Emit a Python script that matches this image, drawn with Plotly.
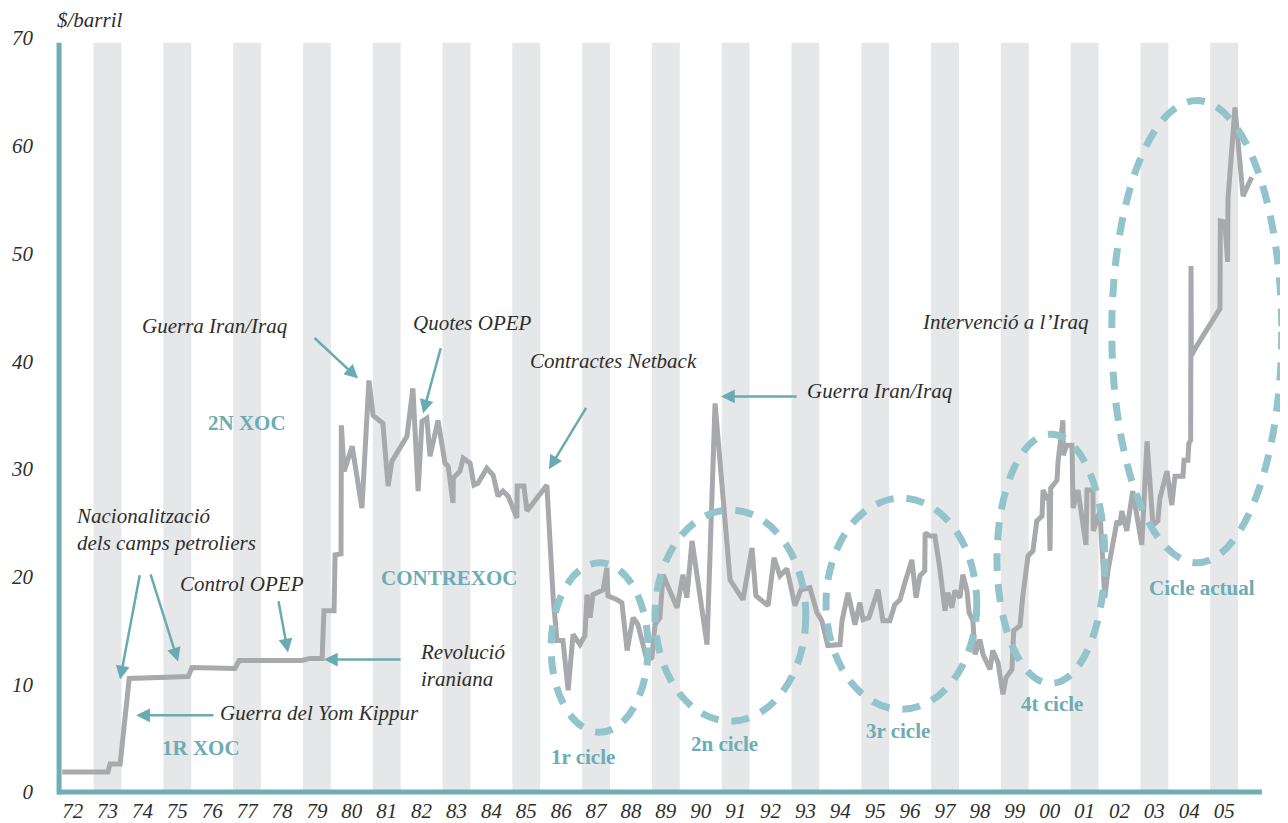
import plotly.graph_objects as go

# ---- data ----
years = [
    1971.70, 1973.01, 1973.07, 1973.36, 1973.62, 1975.31, 1975.42, 1976.65, 1976.77, 1978.57,
    1978.80, 1979.15, 1979.20, 1979.49, 1979.52, 1979.69, 1979.70, 1979.78, 1980.01, 1980.29,
    1980.49, 1980.61, 1980.89, 1981.04, 1981.15, 1981.58, 1981.75, 1981.90, 1982.01, 1982.15,
    1982.24, 1982.47, 1982.67, 1982.76, 1982.90, 1982.91, 1983.10, 1983.19, 1983.39, 1983.50,
    1983.62, 1983.87, 1984.05, 1984.19, 1984.33, 1984.48, 1984.73, 1984.74, 1984.93, 1985.02,
    1985.59, 1985.77, 1985.88, 1986.05, 1986.20, 1986.34, 1986.54, 1986.68, 1986.74, 1986.83,
    1986.91, 1987.20, 1987.31, 1987.34, 1987.60, 1987.74, 1987.89, 1988.06, 1988.20, 1988.46,
    1988.60, 1988.69, 1988.83, 1988.92, 1989.32, 1989.49, 1989.60, 1989.75, 1990.18, 1990.41,
    1990.84, 1991.21, 1991.47, 1991.58, 1991.93, 1992.10, 1992.27, 1992.47, 1992.70, 1992.87,
    1993.13, 1993.33, 1993.47, 1993.64, 1993.99, 1994.05, 1994.22, 1994.42, 1994.56, 1994.65,
    1994.82, 1995.08, 1995.22, 1995.42, 1995.56, 1995.71, 1995.85, 1996.05, 1996.17, 1996.28,
    1996.42, 1996.43, 1996.57, 1996.71, 1996.85, 1997.00, 1997.08, 1997.20, 1997.28, 1997.43,
    1997.51, 1997.63, 1997.69, 1997.80, 1997.86, 1998.00, 1998.09, 1998.29, 1998.37, 1998.52,
    1998.66, 1998.75, 1998.92, 1998.97, 1999.15, 1999.23, 1999.38, 1999.52, 1999.63, 1999.78,
    1999.81, 1999.98, 2000.01, 2000.03, 2000.21, 2000.24, 2000.38, 2000.39, 2000.49, 2000.64,
    2000.67, 2000.81, 2001.04, 2001.07, 2001.24, 2001.25, 2001.44, 2001.58, 2001.67, 2001.78,
    2001.93, 2002.01, 2002.07, 2002.21, 2002.38, 2002.64, 2002.79, 2002.96, 2003.10, 2003.16,
    2003.36, 2003.50, 2003.59, 2003.82, 2003.85, 2003.96, 2003.99, 2004.04, 2004.05, 2004.06,
    2004.22, 2004.88, 2004.89, 2005.02, 2005.10, 2005.11, 2005.31, 2005.54, 2005.79,
]
prices = [
    1.85, 1.85, 2.59, 2.59, 10.55, 10.73, 11.56, 11.47, 12.21, 12.21,
    12.40, 12.40, 16.84, 16.84, 22.02, 22.11, 34.04, 29.79, 32.10, 26.36,
    38.21, 34.97, 34.23, 28.40, 30.71, 33.02, 37.47, 27.94, 34.41, 34.69,
    31.17, 34.50, 30.53, 30.25, 26.83, 29.14, 29.79, 30.99, 30.53, 28.49,
    28.68, 30.06, 29.42, 27.47, 27.94, 27.47, 25.44, 28.40, 28.40, 26.09,
    28.49, 18.04, 14.06, 14.06, 9.44, 14.62, 13.69, 14.52, 18.32, 16.19,
    18.32, 18.78, 20.81, 18.22, 17.85, 17.58, 13.14, 16.19, 15.54, 12.21,
    12.49, 15.54, 16.19, 20.17, 17.11, 20.17, 18.04, 23.31, 13.69, 36.08,
    19.70, 17.85, 22.66, 18.22, 17.30, 21.74, 20.07, 20.72, 17.30, 18.78,
    18.96, 16.65, 15.91, 13.60, 13.69, 15.91, 18.50, 15.54, 17.58, 16.00,
    16.19, 18.78, 15.91, 15.91, 17.39, 17.85, 19.43, 21.55, 18.04, 20.07,
    20.54, 24.05, 23.77, 23.77, 20.81, 16.84, 18.50, 17.11, 18.69, 18.04,
    20.17, 18.69, 16.65, 15.91, 12.77, 14.15, 12.77, 11.38, 13.14, 12.03,
    9.07, 10.64, 11.38, 14.99, 15.45, 18.22, 21.92, 22.39, 25.16, 25.62,
    28.03, 27.01, 22.39, 28.21, 28.95, 30.71, 34.50, 31.27, 32.19, 32.19,
    26.36, 28.03, 22.94, 28.03, 28.03, 24.24, 26.09, 18.04, 20.54, 22.39,
    25.16, 24.79, 26.09, 24.24, 27.94, 22.94, 32.56, 24.79, 25.16, 27.29,
    29.79, 26.64, 29.32, 29.32, 30.80, 30.80, 32.38, 32.65, 48.84, 40.52,
    41.44, 44.87, 53.01, 52.91, 49.21, 55.04, 63.55, 55.32, 57.08,
]
tick_years = list(range(1972, 2006))
tick_labels = ["72", "73", "74", "75", "76", "77", "78", "79", "80", "81", "82", "83",
               "84", "85", "86", "87", "88", "89", "90", "91", "92", "93", "94", "95",
               "96", "97", "98", "99", "00", "01", "02", "03", "04", "05"]
y_ticks = [0, 10, 20, 30, 40, 50, 60, 70]

# cycles (ellipses): name, x0, x1, y0, y1
cycles = [
    ("1r cicle", 1985.71, 1988.49, 5.55, 21.28),
    ("2n cicle", 1988.69, 1993.01, 6.57, 26.18),
    ("3r cicle", 1993.59, 1997.91, 7.68, 27.29),
    ("4t cicle", 1998.49, 2001.58, 10.08, 33.21),
    ("Cicle actual", 2001.78, 2006.65, 21.28, 64.20),
]

# ---- styles ----
TEAL_AXIS = "#6FAEB6"
TEAL_ELL = "#94C4CB"
TEAL_TXT = "#6DACB4"
ARROW = "#6AAAB2"
GREY_LINE = "#A8A9AD"
BAND = "#E6E7E8"
TXT = "#2E2E2E"
SERIF = "Liberation Serif"

fig = go.Figure()
fig.add_trace(go.Scatter(x=years, y=prices, mode="lines",
                         line=dict(color=GREY_LINE, width=5),
                         hoverinfo="skip", showlegend=False))

shapes = []
for yr in tick_years:
    if yr % 2 == 1:
        shapes.append(dict(type="rect", xref="x", yref="y", x0=yr - 0.4, x1=yr + 0.4,
                           y0=0, y1=69.56, fillcolor=BAND, line=dict(width=0), layer="below"))
# axes lines
shapes.append(dict(type="line", xref="x", yref="y", x0=1971.61, x1=1971.61, y0=-0.23, y1=69.56,
                   line=dict(color=TEAL_AXIS, width=5), layer="above"))
shapes.append(dict(type="line", xref="x", yref="y", x0=1971.55, x1=2006.08, y0=0, y1=0,
                   line=dict(color=TEAL_AXIS, width=5), layer="above"))
for name, x0, x1, y0, y1 in cycles:
    shapes.append(dict(type="circle", xref="x", yref="y", x0=x0, x1=x1, y0=y0, y1=y1,
                       line=dict(color=TEAL_ELL, width=7, dash="18px,13px"), layer="above"))

ital = dict(family=SERIF, size=21, color=TXT, style="italic")
bold = dict(family=SERIF, size=21, color=TEAL_TXT, weight="bold")

annotations = [dict(text="$/barril", x=1971.50, y=1.0236, xref="x", yref="paper",
                    xanchor="left", yanchor="middle", showarrow=False, font=ital)]
texts = [
    ("Guerra Iran/Iraq", 1973.93, 43.29),
    ("Quotes OPEP", 1981.70, 43.57),
    ("Contractes Netback", 1985.05, 40.06),
    ("Guerra Iran/Iraq", 1992.99, 37.19),
    ("Intervenció a l’Iraq", 1996.28, 43.66),
    ("Nacionalització<br>dels camps petroliers", 1972.04, 24.33),
    ("Control OPEP", 1975.02, 19.33),
    ("Revolució<br>iraniana", 1981.90, 11.79),
    ("Guerra del Yom Kippur", 1976.16, 7.31),
]
for t, x, y in texts:
    annotations.append(dict(text=t, x=x, y=y, xref="x", yref="y", xanchor="left",
                            yanchor="middle", align="left", showarrow=False, font=ital))

labels = [
    ("2N XOC", 1977.0, 34.23),
    ("CONTREXOC", 1982.81, 19.89),
    ("1R XOC", 1975.68, 4.07),
    ("1r cicle", 1986.62, 3.24),
    ("2n cicle", 1990.69, 4.44),
    ("3r cicle", 1995.65, 5.64),
    ("4t cicle", 2000.06, 8.14),
    ("Cicle actual", 2004.36, 18.96),
]
for t, x, y in labels:
    annotations.append(dict(text=t, x=x, y=y, xref="x", yref="y", xanchor="center",
                            yanchor="middle", showarrow=False, font=bold))

arrows = [  # head x, head y, tail x, tail y
    (1980.18, 38.39, 1978.89, 42.28),
    (1982.04, 35.15, 1982.56, 41.35),
    (1985.65, 29.97, 1986.74, 35.80),
    (1990.58, 36.73, 1992.79, 36.73),
    (1973.36, 10.45, 1973.93, 20.26),
    (1975.02, 12.12, 1974.22, 20.35),
    (1978.17, 12.95, 1977.89, 17.85),
    (1979.20, 12.30, 1981.44, 12.30),
    (1973.82, 7.12, 1976.08, 7.12),
]
for hx, hy, tx, ty in arrows:
    annotations.append(dict(text="", x=hx, y=hy, xref="x", yref="y", ax=tx, ay=ty,
                            axref="x", ayref="y", showarrow=True, arrowhead=2,
                            arrowsize=1.1, arrowwidth=2.5, arrowcolor=ARROW, standoff=0))

fig.update_layout(
    width=1280, height=815,
    margin=dict(l=42, r=0, t=30, b=22),
    paper_bgcolor="white", plot_bgcolor="white",
    shapes=shapes, annotations=annotations, showlegend=False,
    xaxis=dict(range=[1971.35, 2006.83], showgrid=False, zeroline=False, showline=False,
               tickmode="array", tickvals=tick_years, ticktext=tick_labels, ticks="",
               tickfont=ital, ticklabelstandoff=-2, fixedrange=True),
    yaxis=dict(range=[-0.555, 70], showgrid=False, zeroline=False, showline=False,
               tickmode="array", tickvals=y_ticks, ticks="", tickfont=ital,
               ticklabelstandoff=16, fixedrange=True),
)

fig.write_html("out.html")
